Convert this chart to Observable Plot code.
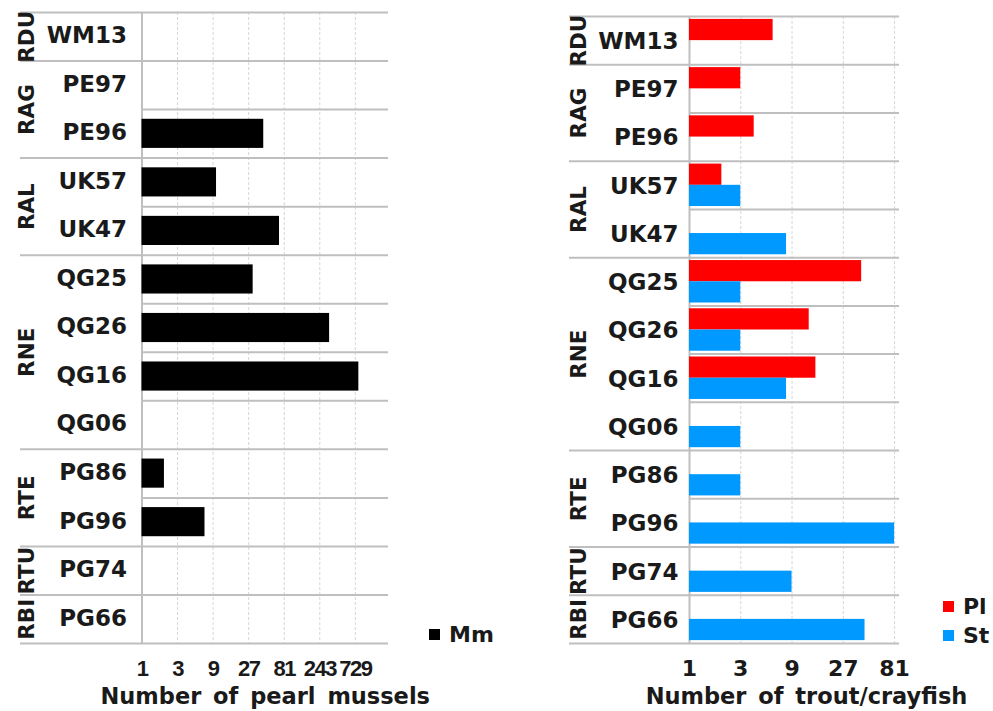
<!DOCTYPE html>
<html><head><meta charset="utf-8">
<script src="https://cdn.jsdelivr.net/npm/d3@7"></script>
<script src="https://cdn.jsdelivr.net/npm/@observablehq/plot@0.6"></script>
<style>
body{margin:0;background:#fff;}
#wrap{position:relative;width:993px;height:711px;overflow:hidden;background:#fff;}
#left{position:absolute;left:0;top:0;}
#right{position:absolute;left:500px;top:0;}
.leg{position:absolute;display:flex;align-items:center;height:24px;line-height:24px;font:bold 22px "DejaVu Sans";color:#1a1a1a;white-space:nowrap;}
.leg i{display:inline-block;width:11px;height:11px;margin-right:9px;}
</style></head><body>
<div id="wrap"><div id="left"></div><div id="right"></div></div>
<script>
// ---- data ----
const sites  = ["WM13","PE97","PE96","UK57","UK47","QG25","QG26","QG16","QG06","PG86","PG96","PG74","PG66"];
const groups = ["RDU","RAG","RAG","RAL","RAL","RNE","RNE","RNE","RNE","RTE","RTE","RTU","RBI"];
const mussels = [null, null, 43, 10, 70, 31, 329, 812, null, 2, 7, null, null]; // Mm
const pl      = [6, 3, 4, 2, null, 40, 13, 15, null, null, null, null, null];   // Pl
const st      = [null, null, null, 3, 8, 3, 3, 8, 3, 3, 81, 9, 43];             // St
const musselTicks = [1, 3, 9, 27, 81, 243, 729];
const fishTicks   = [1, 3, 9, 27, 81];
const musselDomain = [1, 2030];
const fishDomain   = [1, 90];
const musselTitle = "Number of pearl mussels";
const fishTitle   = "Number of trout/crayfish";
const legendLeft  = ["Mm"];
const legendRight = ["Pl", "St"];

// ---- derived tables ----
const rows = sites.map((s, i) => ({site: s, group: groups[i], i, mm: mussels[i], pl: pl[i], st: st[i]}));
const spans = [];
groups.forEach((g, i) => {
  if (i === 0 || groups[i - 1] !== g) spans.push({group: g, start: i, end: i + 1});
  else spans[spans.length - 1].end = i + 1;
});
const groupEdges = [0, ...spans.map(s => s.end)];
const innerEdges = d3.range(1, sites.length).filter(k => !groupEdges.includes(k));

// ---- styles ----
const grey = "#bfbfbf", ink = "#1a1a1a", F = "DejaVu Sans";
const H = 711;
const colors = {Mm: "#000000", Pl: "#ff0000", St: "#0099ff"};

function gridMarks(domain, ticks) {
  return [
    Plot.ruleX(ticks.slice(1), {x: d => d, stroke: "#d6d6d6", strokeDasharray: "3,2", strokeWidth: 1}),
    Plot.ruleY(innerEdges, {y: d => d, x1: () => domain[0], x2: () => domain[1], stroke: grey, strokeWidth: 2}),
    Plot.ruleY(groupEdges, {y: d => d, stroke: grey, strokeWidth: 2}),
    Plot.ruleX([domain[0]], {x: d => d, stroke: grey, strokeWidth: 2}),
  ];
}
function textMarks(domain, ticks, labelDx, groupDx, tickFont, tickSize, title, titleDx, labelDy) {
  return [
    Plot.text(rows, {x: () => domain[0], y: d => d.i + 0.5, text: "site", textAnchor: "end", lineAnchor: "middle",
      dx: labelDx, dy: labelDy, fontFamily: F, fontWeight: "bold", fontSize: 23, fill: ink}),
    Plot.text(spans, {frameAnchor: "left", y: d => (d.start + d.end) / 2, text: "group", rotate: -90, dx: groupDx,
      textAnchor: "middle", lineAnchor: "middle", fontFamily: F, fontWeight: "bold", fontSize: 21.5, fill: ink}),
    Plot.text(ticks, {x: d => d, frameAnchor: "bottom", dy: 25, text: d => String(d), textAnchor: "middle", lineAnchor: "middle",
      fontFamily: tickFont, fontWeight: "bold", fontSize: tickSize, fill: ink}),
    Plot.text([title], {x: () => Math.sqrt(domain[0] * domain[1]), frameAnchor: "bottom", dy: 53, dx: titleDx, text: d => d,
      textAnchor: "middle", lineAnchor: "middle", fontFamily: F, fontWeight: "bold", fontSize: 22.5, fill: ink})
  ];
}

const leftPlot = Plot.plot({
  width: 500, height: H,
  marginLeft: 20, marginRight: 112, marginTop: 12, marginBottom: 68,
  x: {type: "log", base: 3, domain: musselDomain, range: [141.5, 388], axis: null},
  y: {domain: [0, sites.length], range: [12, 643], axis: null},
  marks: [
    ...gridMarks(musselDomain, musselTicks),
    Plot.rect(rows.filter(d => d.mm != null), {x1: () => musselDomain[0], x2: "mm", y1: d => d.i + 0.2, y2: d => d.i + 0.8, fill: colors.Mm}),
    ...textMarks(musselDomain, musselTicks, -15, 7, "Liberation Sans", 22, musselTitle, 0, -1)
  ]
});

const rightPlot = Plot.plot({
  width: 493, height: H,
  marginLeft: 69, marginRight: 94, marginTop: 16, marginBottom: 68,
  x: {type: "log", base: 3, domain: fishDomain, range: [189, 399], axis: null},
  y: {domain: [0, sites.length], range: [16, 643], axis: null},
  marks: [
    ...gridMarks(fishDomain, fishTicks),
    Plot.rect(rows.filter(d => d.pl != null), {x1: () => fishDomain[0], x2: "pl", y1: d => d.i + 0.06, y2: d => d.i + 0.5, fill: colors.Pl}),
    Plot.rect(rows.filter(d => d.st != null), {x1: () => fishDomain[0], x2: "st", y1: d => d.i + 0.5, y2: d => d.i + 0.94, fill: colors.St}),
    ...textMarks(fishDomain, fishTicks, -11, 10, F, 22, fishTitle, 12, 1)
  ]
});

document.getElementById("left").appendChild(leftPlot);
document.getElementById("right").appendChild(rightPlot);
for (const svg of [leftPlot, rightPlot]) {
  d3.select(svg).selectAll("text")
    .filter(function () { return this.textContent === musselTitle || this.textContent === fishTitle; })
    .style("word-spacing", "4px");
}
d3.select(leftPlot).selectAll("text")
  .filter(function () { return musselTicks.map(String).includes(this.textContent); })
  .style("letter-spacing", "-1.5px");

// ---- legends ----
const wrap = document.getElementById("wrap");
function addLegend(names, left, top0, step) {
  names.forEach((n, k) => {
    const div = document.createElement("div");
    div.className = "leg";
    div.style.left = left + "px";
    div.style.top = (top0 + k * step) + "px";
    const sw = document.createElement("i");
    sw.style.background = colors[n];
    div.appendChild(sw);
    div.appendChild(document.createTextNode(n));
    wrap.appendChild(div);
  });
}
addLegend(legendLeft, 429, 622, 0);
addLegend(legendRight, 943, 594.5, 28.5);
</script>
</body></html>
